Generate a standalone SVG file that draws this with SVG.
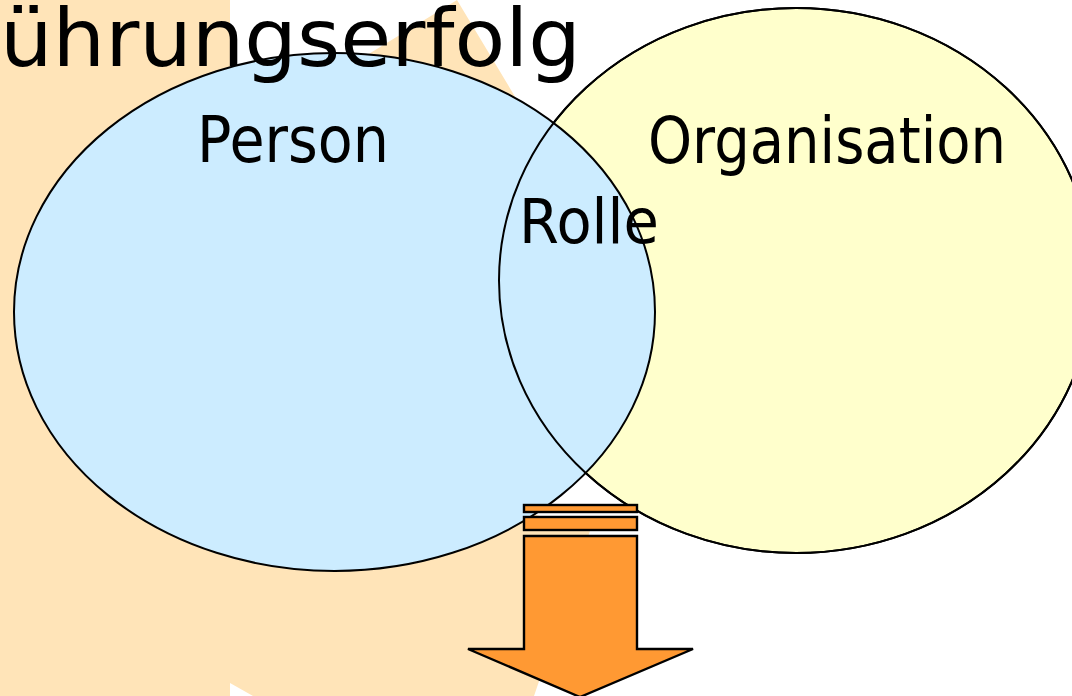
<svg xmlns="http://www.w3.org/2000/svg" width="1072" height="696" viewBox="0 0 1072 696">
  <style>
    .bg { fill: #FFE4B8; stroke: none; }
    .ell { stroke: #000; stroke-width: 2; }
    .lbl { font-family: "DejaVu Sans", Verdana, sans-serif; fill: #000; }
    .arrow { fill: #FF9933; stroke: #000; stroke-width: 2.4; stroke-linejoin: miter; }
  </style>
  <rect x="0" y="0" width="1072" height="696" fill="#FFFFFF"/>
  <g id="background">
    <polygon class="bg" points="0,0 230,0 230,110 300,96 457,0 517,100 540,140 560,300 540,460 470,495 590,531 534,696 253,696 230,683 230,696 0,696"/>
  </g>
  <g id="organisation">
    <ellipse cx="796" cy="280.5" rx="297" ry="272.5" fill="#FFFFCC" class="ell"/>
  </g>
  <g id="person">
    <ellipse cx="334.5" cy="312" rx="320.5" ry="259" fill="#CCECFF" class="ell"/>
  </g>
  <g id="organisation-outline">
    <ellipse cx="796" cy="280.5" rx="297" ry="272.5" fill="none" class="ell"/>
  </g>
  <g id="title">
    <text class="lbl" x="0" y="66" font-size="80" textLength="581" lengthAdjust="spacingAndGlyphs">ührungserfolg</text>
  </g>
  <g id="labels">
    <text class="lbl" x="197" y="162" font-size="64" textLength="192" lengthAdjust="spacingAndGlyphs">Person</text>
    <text class="lbl" x="648" y="163" font-size="64" textLength="358" lengthAdjust="spacingAndGlyphs">Organisation</text>
    <text class="lbl" x="519" y="243" font-size="62" textLength="140" lengthAdjust="spacingAndGlyphs">Rolle</text>
  </g>
  <g id="result-arrow">
    <rect class="arrow" x="524" y="505" width="113" height="7"/>
    <rect class="arrow" x="524" y="517" width="113" height="13"/>
    <polygon class="arrow" points="524,536 637,536 637,649 693,649 580,697 468,649 524,649"/>
  </g>
</svg>
